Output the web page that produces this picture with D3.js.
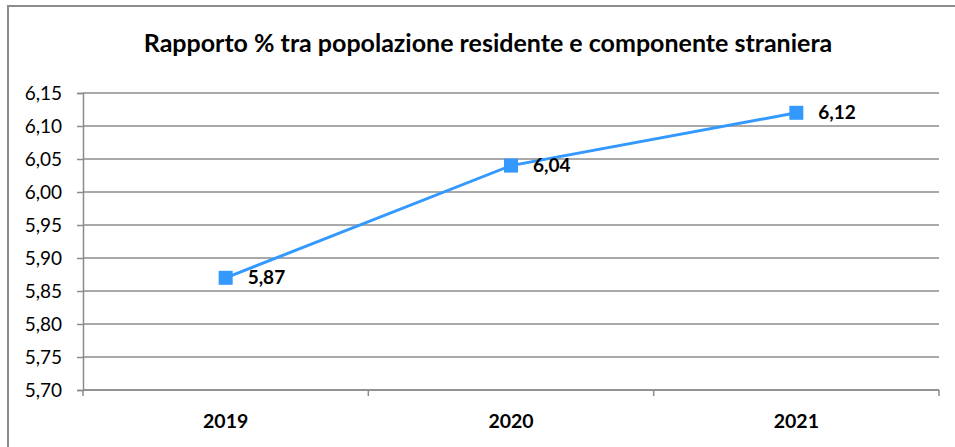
<!DOCTYPE html>
<html>
<head>
<meta charset="utf-8">
<script src="https://cdn.jsdelivr.net/npm/d3@7"></script>
<style>
  body { margin: 0; background: #fff; }
  text { font-family: Lato, "Open Sans", sans-serif; fill: #000; }
</style>
</head>
<body>
<div id="chart"></div>
<script>
// data
var years = ["2019", "2020", "2021"];
var values = [5.87, 6.04, 6.12];
var yTicks = [5.70, 5.75, 5.80, 5.85, 5.90, 5.95, 6.00, 6.05, 6.10, 6.15];
var title = "Rapporto % tra popolazione residente e componente straniera";

var W = 955, H = 447;
var margin = {top: 93, right: 16, bottom: 57, left: 83},
    w = W - margin.left - margin.right,
    h = H - margin.top - margin.bottom;

var fmt = function(v) { return d3.format(".2f")(v).replace(".", ","); };

var svg = d3.select("#chart").append("svg")
    .attr("width", W)
    .attr("height", H);

// outer frame
svg.append("rect")
    .attr("x", 8).attr("y", 6)
    .attr("width", W).attr("height", H)
    .attr("fill", "none")
    .attr("stroke", "#8c8c8c")
    .attr("stroke-width", 2);

svg.append("text")
    .attr("x", 488)
    .attr("y", 52)
    .attr("text-anchor", "middle")
    .style("font-size", "25px")
    .style("font-weight", "bold")
    .text(title);

var g = svg.append("g")
    .attr("transform", "translate(" + margin.left + "," + margin.top + ")");

var x = d3.scaleBand().domain(years).range([0, w]);
var y = d3.scaleLinear().domain([5.70, 6.15]).range([h, 0]);

// gridlines
g.append("g").selectAll("line")
    .data(yTicks)
    .enter().append("line")
    .attr("x1", 0).attr("x2", w)
    .attr("y1", function(d) { return y(d); })
    .attr("y2", function(d) { return y(d); })
    .attr("stroke", "#8c8c8c")
    .attr("stroke-width", 1.5);

// y axis
var yAxis = g.append("g")
    .call(d3.axisLeft(y).tickValues(yTicks).tickSize(6).tickPadding(15).tickFormat(fmt));
yAxis.select(".domain").attr("stroke", "#8c8c8c").attr("stroke-width", 1.5);
yAxis.selectAll(".tick line").attr("stroke", "#8c8c8c").attr("stroke-width", 1.5);
yAxis.selectAll("text").style("font-size", "19px").style("font-family", "Lato, sans-serif").attr("fill", "#000");

// x axis with tick marks at category boundaries
var xAxisG = g.append("g").attr("transform", "translate(0," + h + ")");
xAxisG.append("line")
    .attr("x1", 0).attr("x2", w)
    .attr("stroke", "#8c8c8c").attr("stroke-width", 1.5);
var bounds = years.map(function(d) { return x(d); }).concat([w]);
xAxisG.selectAll(".bt")
    .data(bounds)
    .enter().append("line")
    .attr("class", "bt")
    .attr("x1", function(d) { return d; })
    .attr("x2", function(d) { return d; })
    .attr("y1", 0).attr("y2", 6)
    .attr("stroke", "#8c8c8c").attr("stroke-width", 1.5);
xAxisG.selectAll(".cat")
    .data(years)
    .enter().append("text")
    .attr("class", "cat")
    .attr("x", function(d) { return x(d) + x.bandwidth() / 2; })
    .attr("y", 38)
    .attr("text-anchor", "middle")
    .style("font-size", "19.5px")
    .style("font-weight", "bold")
    .text(function(d) { return d; });

var pts = years.map(function(d, i) { return {year: d, value: values[i]}; });
var cx = function(d) { return x(d.year) + x.bandwidth() / 2; };

g.append("path")
    .datum(pts)
    .attr("fill", "none")
    .attr("stroke", "#3399ff")
    .attr("stroke-width", 3)
    .attr("d", d3.line().x(cx).y(function(d) { return y(d.value); }));

g.selectAll(".mk")
    .data(pts)
    .enter().append("rect")
    .attr("class", "mk")
    .attr("x", function(d) { return cx(d) - 7; })
    .attr("y", function(d) { return y(d.value) - 7; })
    .attr("width", 14).attr("height", 14)
    .attr("fill", "#3399ff");

g.selectAll(".lbl")
    .data(pts)
    .enter().append("text")
    .attr("class", "lbl")
    .attr("x", function(d) { return cx(d) + 22; })
    .attr("y", function(d) { return y(d.value); })
    .attr("dy", "0.35em")
    .style("font-size", "19px")
    .style("font-weight", "bold")
    .text(function(d) { return fmt(d.value); });
</script>
</body>
</html>
